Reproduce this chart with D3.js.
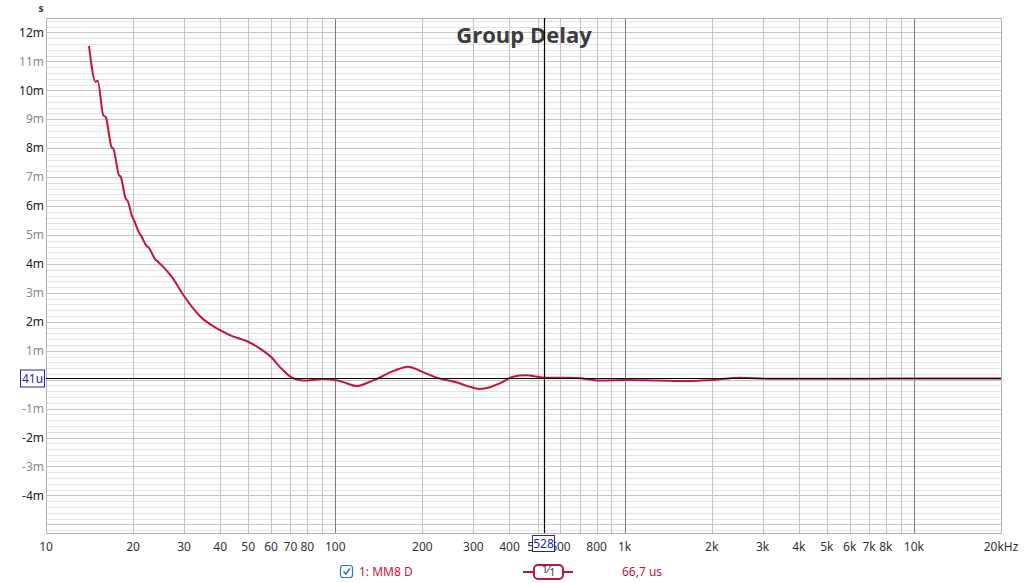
<!DOCTYPE html>
<html>
<head>
<meta charset="utf-8">
<script src="https://cdn.jsdelivr.net/npm/d3@7"></script>
<style>
  html, body { margin: 0; padding: 0; background: #fff; }
  svg { display: block; font-family: "Noto Sans", sans-serif; }
</style>
</head>
<body>
<div id="chart"></div>
<script>
// group delay trace (Hz -> ms)
const freqs = [14.08, 14.85, 15.09, 15.77, 16.08, 16.86, 17.08, 17.87, 18.12, 18.85, 19.15, 19.87, 20.14,
  20.96, 21.41, 22.15, 22.74, 23.8, 24.43, 25.42, 27.18, 30, 34, 40, 43.2, 50, 54.8, 60, 65, 70, 75, 80,
  90, 100, 110, 118, 130, 140, 160, 178, 200, 224, 262, 290, 315, 340, 370, 411, 457, 528, 681, 820,
  1000, 1300, 1680, 2000, 2500, 3200, 5000, 10000, 20000]
const delays = [11.54, 10.29, 10.33, 9.14, 9.08, 8.03, 7.99, 7.07, 7.01, 6.26, 6.18, 5.63, 5.51,
  5.09, 4.94, 4.65, 4.54, 4.17, 4.07, 3.90, 3.56, 2.89, 2.2, 1.71, 1.54, 1.31, 1.08, 0.78, 0.39, 0.1, -0.01, -0.03,
  0.02, -0.01, -0.13, -0.22, -0.1, 0.04, 0.31, 0.45, 0.27, 0.07, -0.09, -0.24, -0.32, -0.27, -0.13, 0.1, 0.15, 0.07, 0.06, -0.03,
  -0.01, -0.03, -0.05, -0.01, 0.07, 0.03, 0.03, 0.04, 0.04]

const xTicks = [10, 20, 30, 40, 50, 60, 70, 80, 100, 200, 300, 400, 500, 600, 800, 1000, 2000, 3000, 4000, 5000, 6000, 7000, 8000, 10000, 20000]
const xLabels = ["10", "20", "30", "40", "50", "60", "70", "80", "100", "200", "300", "400", "500", "600", "800", "1k", "2k", "3k", "4k", "5k", "6k", "7k", "8k", "10k", "20kHz"]
const yTicks = [12, 11, 10, 9, 8, 7, 6, 5, 4, 3, 2, 1, -1, -2, -3, -4]
const yLabels = ["12m", "11m", "10m", "9m", "8m", "7m", "6m", "5m", "4m", "3m", "2m", "1m", "-1m", "-2m", "-3m", "-4m"]

const title = "Group Delay"
const cursorFreq = 528
const cursorDelay = 0.041
const cursorLabel = "41u"
const traceName = "1: MM8 D"
const traceValue = "66,7 us"

const W = 1024, H = 583
const red = "#c4143c"
const blue = "#1c2a9c"

const x = d3.scaleLog([10, 20000], [46, 1001])
const y = d3.scaleLinear([-5.3, 12.5], [533, 18])

const svg = d3.select('#chart')
  .append('svg')
  .attr('width', W)
  .attr('height', H)

const grid = svg.append("g").attr("shape-rendering", "crispEdges")

// minor horizontal lines every 0.2 ms
grid.selectAll("line.hmin")
  .data(d3.range(-26, 63).map(d => d / 5))
  .join("line")
  .attr("x1", 46).attr("x2", 1001)
  .attr("y1", d => Math.round(y(d)) + 0.5).attr("y2", d => Math.round(y(d)) + 0.5)
  .attr("stroke", d => Math.abs(d - Math.round(d)) < 1e-6 ? "#c4c4c4" : "#e2e2e2")

// vertical lines at every log tick
const vt = []
for (let dec = 10; dec < 20000; dec *= 10)
  for (let k = 1; k < 10; k++) if (dec * k <= 20000) vt.push(dec * k)
vt.push(20000)
grid.selectAll("line.v")
  .data(vt)
  .join("line")
  .attr("x1", d => Math.round(x(d)) + 0.5).attr("x2", d => Math.round(x(d)) + 0.5)
  .attr("y1", 18).attr("y2", 533)
  .attr("stroke", d => [100, 1000, 10000].includes(d) ? "#7c7c7c" : "#c4c4c4")

grid.append("rect")
  .attr("x", 46.5).attr("y", 18.5).attr("width", 955).attr("height", 515)
  .attr("fill", "none").attr("stroke", "#b4b4b4")

// title
svg.append("text")
  .attr("x", 524).attr("y", 43)
  .attr("text-anchor", "middle")
  .attr("font-family", "'Open Sans', sans-serif")
  .attr("font-weight", "bold")
  .attr("font-size", 22)
  .attr("fill", "#3c3c3c")
  .text(title)

// axis labels
svg.append("text").attr("x", 41).attr("y", 12).attr("text-anchor", "middle")
  .attr("font-size", 10).attr("font-weight", "bold").attr("fill", "#333").text("s")

svg.append("g")
  .selectAll("text")
  .data(yTicks)
  .join("text")
  .attr("x", 44).attr("y", d => y(d))
  .attr("dy", "0.35em")
  .attr("text-anchor", "end")
  .attr("font-size", 12)
  .attr("fill", d => d % 2 === 0 ? "#222" : "#8a8a8a")
  .text((d, i) => yLabels[i])

svg.append("g")
  .selectAll("text")
  .data(xTicks)
  .join("text")
  .attr("x", d => x(d)).attr("y", 551)
  .attr("text-anchor", "middle")
  .attr("font-size", 12)
  .attr("fill", "#333")
  .text((d, i) => xLabels[i])

// trace
const line = d3.line()
  .x((d, i) => x(freqs[i]))
  .y(d => y(d))
  .curve(d3.curveMonotoneX)

svg.append("path")
  .datum(delays)
  .attr("fill", "none")
  .attr("stroke", red)
  .attr("stroke-width", 2)
  .attr("stroke-linejoin", "round")
  .attr("d", line)

// cursor
const cx = Math.round(x(cursorFreq)) + 0.5
const cy = Math.round(y(cursorDelay)) + 0.5
svg.append("line").attr("x1", 46).attr("x2", 1001).attr("y1", cy).attr("y2", cy)
  .attr("stroke", "#000").attr("stroke-width", 1.2)
svg.append("line").attr("x1", cx).attr("x2", cx).attr("y1", 18).attr("y2", 533)
  .attr("stroke", "#000").attr("stroke-width", 1.2)

svg.append("rect").attr("x", 20.5).attr("y", cy - 8.5).attr("width", 24).attr("height", 17)
  .attr("fill", "#fff").attr("stroke", blue)
svg.append("text").attr("x", 32.5).attr("y", cy).attr("dy", "0.35em").attr("text-anchor", "middle")
  .attr("font-size", 12).attr("fill", blue).text(cursorLabel)

svg.append("rect").attr("x", cx - 12).attr("y", 535.5).attr("width", 22).attr("height", 16)
  .attr("fill", "#fff").attr("stroke", blue)
svg.append("text").attr("x", cx - 1).attr("y", 543.5).attr("dy", "0.35em").attr("text-anchor", "middle")
  .attr("font-size", 12).attr("fill", blue).text(cursorFreq)

// legend
const lg = svg.append("g")
lg.append("rect").attr("x", 340.5).attr("y", 565.5).attr("width", 12).attr("height", 12).attr("rx", 2.5)
  .attr("fill", "#fff").attr("stroke", "#2a7ad4").attr("stroke-width", 1.2)
lg.append("path").attr("d", "M343.5,571.5 L345.8,574 L350,568.5")
  .attr("fill", "none").attr("stroke", "#2a7ad4").attr("stroke-width", 1.6)
lg.append("text").attr("x", 359).attr("y", 572).attr("dy", "0.35em")
  .attr("font-size", 12).attr("fill", red).text(traceName)

lg.append("line").attr("x1", 523).attr("x2", 573).attr("y1", 572).attr("y2", 572)
  .attr("stroke", red).attr("stroke-width", 2)
lg.append("rect").attr("x", 534).attr("y", 565).attr("width", 29).attr("height", 14).attr("rx", 4)
  .attr("fill", "#fff").attr("stroke", red).attr("stroke-width", 2)
const frac = lg.append("text").attr("x", 548.5).attr("y", 575).attr("text-anchor", "middle")
  .attr("font-size", 11).attr("fill", "#333")
frac.append("tspan").attr("dy", -2).text("1")
frac.append("tspan").attr("dy", 0).text("\u2044")
frac.append("tspan").attr("dy", 3).attr("font-size", 10).text("1")

lg.append("text").attr("x", 622).attr("y", 572).attr("dy", "0.35em")
  .attr("font-size", 12).attr("fill", red).text(traceValue)
</script>
</body>
</html>
